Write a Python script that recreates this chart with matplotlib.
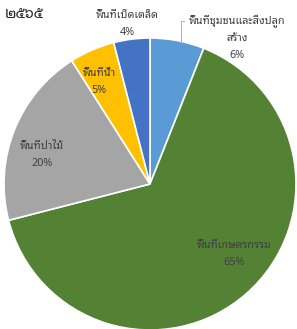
import matplotlib.pyplot as plt

categories = ["พื้นที่ชุมชนและสิ่งปลูก\nสร้าง", "พื้นที่เกษตรกรรม", "พื้นที่ป่าไม้",
              "พื้นที่น้ำ", "พื้นที่เบ็ดเตล็ด"]
values = [6, 65, 20, 5, 4]
colors = ["#5B9BD5", "#548235", "#A5A5A5", "#FFC000", "#4472C4"]
title = "๒๕๖๕"

plt.rcParams["font.family"] = ["Noto Sans Thai Looped", "DejaVu Sans"]

fig = plt.figure(figsize=(2.97, 3.29), dpi=100)
ax = fig.add_axes([0, 0, 1, 1])

# work in pixel units, y measured from bottom
ax.pie(values, colors=colors, startangle=90, counterclock=False,
       center=(150, 145), radius=146, frame=True,
       wedgeprops=dict(edgecolor="white", linewidth=1.2))
ax.set_xlim(0, 297)
ax.set_ylim(0, 329)
ax.set_aspect("equal")
ax.axis("off")

# label centres (x, y from top)
label_pos = [(237, 38), (234, 254), (42, 155), (99, 82), (127, 24)]
for name, v, (x, y) in zip(categories, values, label_pos):
    ax.text(x, 329 - y, f"{name}\n{v}%", ha="center", va="center",
            fontsize=7.8, color="#404040", linespacing=1.75)

# leader line for the top-right label
ax.plot([184, 181, 181], [329 - 21, 329 - 21, 329 - 43], color="#A5A5A5", lw=0.6)

ax.text(5, 329 - 15, title, ha="left", va="center", fontsize=10.5,
        fontweight="bold", color="#222222")

fig.savefig("out.png", dpi=100)
